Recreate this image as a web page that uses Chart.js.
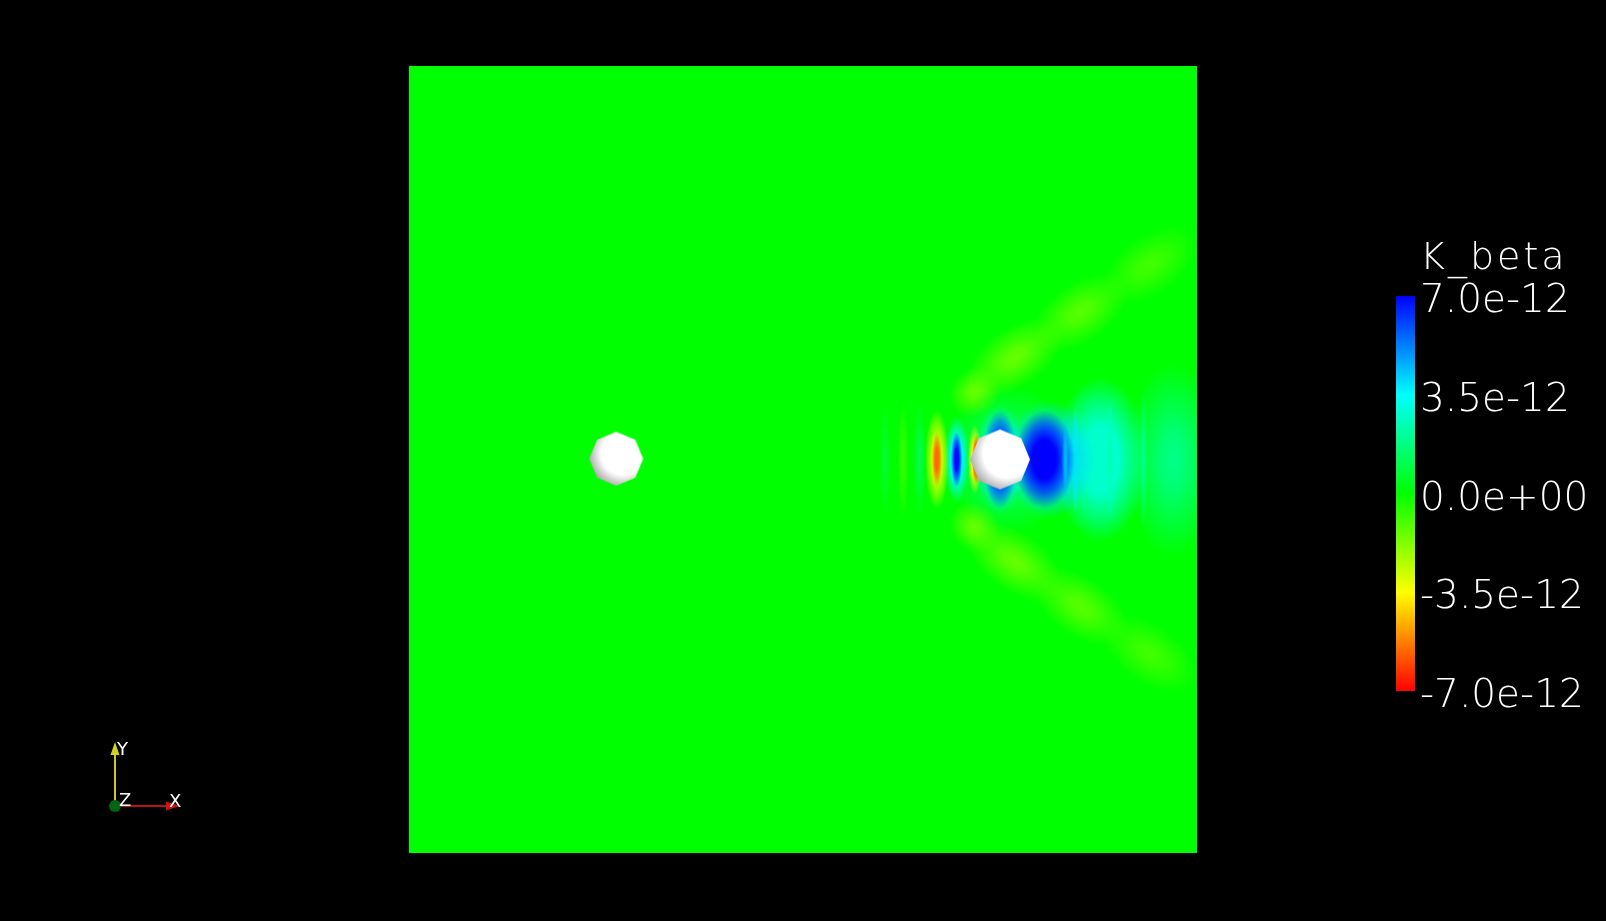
<!DOCTYPE html>
<html>
<head>
<meta charset="utf-8">
<title>K_beta</title>
<script src="https://cdn.jsdelivr.net/npm/chart.js@4.4.1/dist/chart.umd.min.js"></script>
<style>
html, body { margin: 0; padding: 0; background: #000; overflow: hidden; }
canvas { position: absolute; left: 0; top: 0; }
</style>
</head>
<body>
<canvas id="field" width="1606" height="921"></canvas>
<canvas id="bar" width="1606" height="921"></canvas>
<script>
'use strict'

// colour bar range and its labels
var kMin = -7.0e-12
var kMax = 7.0e-12
var barTicks = [-7.0e-12, -3.5e-12, 0, 3.5e-12, 7.0e-12]

// the two cylinders, domain is 0..100 both ways
var cylX = [26.3, 75.0]
var cylY = [50.1, 50.0]
var cylR = [3.45, 3.75]

// patches of the K_beta field (everything else is 0)
// centre x,y / extent w,h / tilt a (deg) / value v, drawn in this order
var featX = [97.0, 87.7, 76.3, 71.8, 76.9, 85.2, 94.0, 71.8, 76.9, 85.2, 94.0,
             60.4, 62.7, 64.8, 84.6, 89.0, 93.2,
             75.0, 75.0, 81.3, 80.6, 83.3, 69.5, 69.5, 67.0, 67.0, 71.8, 72.0]
var featY = [50.0, 50.0, 50.0, 58.6, 63.0, 68.7, 74.7, 41.4, 37.0, 31.3, 25.3,
             50.0, 50.0, 50.0, 50.0, 50.0, 50.0,
             50.0, 50.0, 50.0, 50.0, 50.0, 50.0, 50.0, 50.0, 50.0, 50.0, 50.0]
var featW = [12.0, 12.0, 17.0, 7.0, 14.0, 14.0, 14.0, 7.0, 14.0, 14.0, 14.0,
             1.4, 1.4, 1.6, 1.0, 1.0, 1.0,
             6.4, 4.4, 11.5, 7.8, 0.8, 3.2, 1.4, 3.0, 1.3, 1.8, 1.1]
var featH = [25.0, 21.0, 19.0, 6.0, 7.5, 7.5, 7.5, 6.0, 7.5, 7.5, 7.5,
             15.0, 16.0, 15.0, 14.0, 16.0, 18.0,
             14.0, 12.5, 15.0, 12.5, 10.0, 11.0, 7.0, 12.7, 7.0, 8.9, 6.3]
var featA = [0, 0, 0, 40, 34, 34, 34, -40, -34, -34, -34,
             0, 0, 0, 0, 0, 0,
             0, 0, 0, 0, 0, 0, 0, 0, 0, 0, 0]
var featV = [1.9e-12, 2.8e-12, 1.8e-12, -1.4e-12, -1.4e-12, -1.2e-12, -0.9e-12, -1.4e-12, -1.4e-12, -1.2e-12, -0.9e-12,
             0.7e-12, -0.8e-12, 1.1e-12, 3.0e-12, 2.6e-12, 2.0e-12,
             3.8e-12, 6.4e-12, 4.0e-12, 7.0e-12, 4.5e-12, 3.6e-12, 6.8e-12, -2.8e-12, -5.5e-12, -3.5e-12, -6.3e-12]

// blue -> cyan -> green -> yellow -> red, like the bar
function kColor(v, alpha) {
  var t = (v - kMin) / (kMax - kMin)
  t = Math.max(0, Math.min(1, t))
  return 'hsla(' + (240 * t).toFixed(1) + ',100%,50%,' + alpha + ')'
}

function sci(v) {
  var parts = Number(v).toExponential(1).split('e')
  var e = parseInt(parts[1], 10)
  var m = Math.abs(e)
  return parts[0] + 'e' + (e < 0 ? '-' : '+') + (m < 10 ? '0' + m : m)
}

function unitPx(chart) {
  var sx = chart.scales.x, sy = chart.scales.y
  if (!sx || !sy) return null
  var ux = Math.abs(sx.getPixelForValue(1) - sx.getPixelForValue(0))
  var uy = Math.abs(sy.getPixelForValue(1) - sy.getPixelForValue(0))
  if (!isFinite(ux) || !isFinite(uy) || ux <= 0 || uy <= 0) return null
  return [ux, uy]
}

var blobCache = {}
function blobStyle(c) {
  var i = c.dataIndex
  var u = unitPx(c.chart)
  if (i === undefined || !u) return 'circle'
  var w = Math.max(2, Math.round(featW[i] * u[0]))
  var h = Math.max(2, Math.round(featH[i] * u[1]))
  var key = i + ':' + w + 'x' + h
  if (blobCache[key]) return blobCache[key]
  var cv = document.createElement('canvas')
  cv.width = w
  cv.height = h
  var g = cv.getContext('2d')
  g.translate(w / 2, h / 2)
  g.scale(w / 2, h / 2)
  var v = featV[i]
  var grad = g.createRadialGradient(0, 0, 0, 0, 0, 1)
  if (Math.abs(v) < 2.5e-12) {
    // weak patches fade out gently
    grad.addColorStop(0, kColor(v, 1))
    grad.addColorStop(0.25, kColor(v, 0.85))
    grad.addColorStop(0.6, kColor(v, 0.45))
    grad.addColorStop(1, kColor(v, 0))
  } else {
    grad.addColorStop(0, kColor(v, 1))
    grad.addColorStop(0.4, kColor(v, 1))
    grad.addColorStop(0.7, kColor(v, 0.55))
    grad.addColorStop(1, kColor(v, 0))
  }
  g.fillStyle = grad
  g.fillRect(-1, -1, 2, 2)
  blobCache[key] = cv
  return cv
}

var cylCache = {}
function cylStyle(c) {
  var i = c.dataIndex
  var u = unitPx(c.chart)
  if (i === undefined || !u) return 'circle'
  var r = Math.round(cylR[i] * u[0])
  if (cylCache[r]) return cylCache[r]
  var cv = document.createElement('canvas')
  cv.width = cv.height = 2 * r + 4
  var g = cv.getContext('2d')
  g.translate(r + 2, r + 2)
  g.beginPath()
  for (var k = 0; k < 8; k++) {
    var ang = (-90 + 45 * k) * Math.PI / 180
    g[k ? 'lineTo' : 'moveTo'](r * Math.cos(ang), r * Math.sin(ang))
  }
  g.closePath()
  var sh = g.createRadialGradient(r * 0.25, -r * 0.2, 0, r * 0.25, -r * 0.2, r * 1.3)
  sh.addColorStop(0, '#ffffff')
  sh.addColorStop(0.62, '#ffffff')
  sh.addColorStop(1, '#a8a8a8')
  g.fillStyle = sh
  g.fill()
  cylCache[r] = cv
  return cv
}

// value 0 everywhere else
var fieldBackground = {
  id: 'fieldBackground',
  beforeDatasetsDraw: function (chart) {
    var a = chart.chartArea
    chart.ctx.save()
    chart.ctx.fillStyle = kColor(0, 1)
    chart.ctx.fillRect(a.left, a.top, a.right - a.left, a.bottom - a.top)
    chart.ctx.restore()
  }
}

// little orientation triad bottom left
var triad = {
  id: 'triad',
  afterDraw: function (chart) {
    var ctx = chart.ctx
    ctx.save()
    ctx.lineWidth = 2
    ctx.strokeStyle = '#c8c81e'
    ctx.fillStyle = '#d2d21e'
    ctx.beginPath(); ctx.moveTo(115, 806); ctx.lineTo(115, 752); ctx.stroke()
    ctx.beginPath(); ctx.moveTo(115, 742); ctx.lineTo(110.5, 755); ctx.lineTo(119.5, 755); ctx.closePath(); ctx.fill()
    ctx.strokeStyle = '#b41414'
    ctx.fillStyle = '#c81414'
    ctx.beginPath(); ctx.moveTo(115, 806); ctx.lineTo(168, 806); ctx.stroke()
    ctx.beginPath(); ctx.moveTo(180, 806); ctx.lineTo(166, 801.5); ctx.lineTo(166, 810.5); ctx.closePath(); ctx.fill()
    ctx.fillStyle = '#006414'
    ctx.beginPath(); ctx.arc(115, 806, 6, 0, 2 * Math.PI); ctx.fill()
    ctx.fillStyle = '#ffffff'
    ctx.font = '18px "DejaVu Sans"'
    ctx.textBaseline = 'alphabetic'
    ctx.fillText('Y', 117, 755)
    ctx.fillText('Z', 119, 806)
    ctx.fillText('X', 169, 807)
    ctx.restore()
  }
}

new Chart(document.getElementById('field'), {
  type: 'scatter',
  data: {
    datasets: [{
      data: featX.map(function (x, i) { return { x: x, y: featY[i] } }),
      pointStyle: blobStyle,
      rotation: function (c) { return c.dataIndex === undefined ? 0 : -featA[c.dataIndex] },
      pointRadius: 1,
      borderWidth: 0,
      clip: 0,
      order: 2
    }, {
      data: cylX.map(function (x, i) { return { x: x, y: cylY[i] } }),
      pointStyle: cylStyle,
      pointRadius: 1,
      borderWidth: 0,
      clip: 0,
      order: 1
    }]
  },
  options: {
    responsive: false,
    animation: false,
    events: [],
    layout: { padding: { left: 409, top: 66, right: 409, bottom: 68 } },
    scales: {
      x: { type: 'linear', min: 0, max: 100, display: false },
      y: { type: 'linear', min: 0, max: 100, display: false }
    },
    plugins: { legend: { display: false }, tooltip: { enabled: false } }
  },
  plugins: [fieldBackground, triad]
})

var barTitle = {
  id: 'barTitle',
  afterDraw: function (chart) {
    var a = chart.chartArea
    var ctx = chart.ctx
    ctx.save()
    ctx.fillStyle = '#ffffff'
    ctx.font = '200 38px "DejaVu Sans"'
    ctx.letterSpacing = '3px'
    ctx.textAlign = 'left'
    ctx.textBaseline = 'alphabetic'
    ctx.fillText('K_beta', a.right + 5, a.top - 27)
    ctx.restore()
  }
}

new Chart(document.getElementById('bar'), {
  type: 'bar',
  data: {
    labels: ['K_beta'],
    datasets: [{
      data: [[kMin, kMax]],
      backgroundColor: function (c) {
        var a = c.chart.chartArea
        if (!a) return kColor(0, 1)
        var g = c.chart.ctx.createLinearGradient(0, a.bottom, 0, a.top)
        for (var k = 0; k <= 8; k++) g.addColorStop(k / 8, kColor(kMin + (kMax - kMin) * k / 8, 1))
        return g
      },
      borderWidth: 0,
      barPercentage: 1,
      categoryPercentage: 1
    }]
  },
  options: {
    responsive: false,
    animation: false,
    events: [],
    layout: { padding: { left: 1396, top: 296, right: 1, bottom: 230 } },
    scales: {
      x: { display: false },
      y: {
        position: 'right',
        min: kMin,
        max: kMax,
        grid: { display: false, drawTicks: false },
        border: { display: false },
        afterBuildTicks: function (axis) { axis.ticks = barTicks.map(function (v) { return { value: v } }) },
        afterFit: function (axis) { axis.width = 190 },
        ticks: {
          color: '#ffffff',
          padding: 5,
          labelOffset: 6,
          font: { family: 'DejaVu Sans', size: 39, weight: 200 },
          callback: function (v) { return sci(v) }
        }
      }
    },
    plugins: { legend: { display: false }, tooltip: { enabled: false } }
  },
  plugins: [barTitle]
})
</script>
</body>
</html>
